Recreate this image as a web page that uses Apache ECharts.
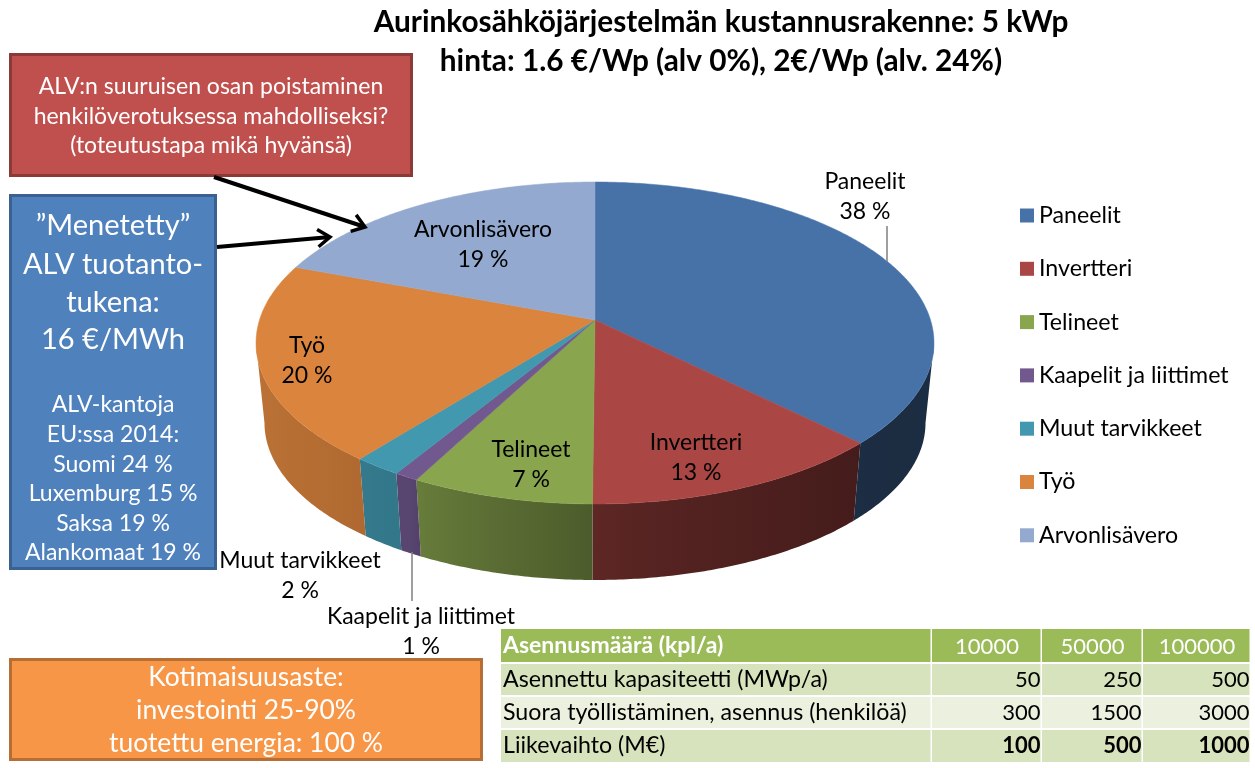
<!DOCTYPE html>
<html><head><meta charset="utf-8">
<style>html,body{margin:0;padding:0;background:#fff}#c{width:1255px;height:768px}</style>
<script src="https://cdn.jsdelivr.net/npm/echarts@6/dist/echarts.min.js"></script>
</head><body><div id="c"></div>
<script>
// ---- data ----
const titleLines = ['Aurinkosähköjärjestelmän kustannusrakenne: 5 kWp','hinta: 1.6 €/Wp (alv 0%), 2€/Wp (alv. 24%)'];
const categories = ['Paneelit','Invertteri','Telineet','Kaapelit ja liittimet','Muut tarvikkeet','Työ','Arvonlisävero'];
const shares = [37.4,12.7,7.6,1.0,2.0,20.0,19.3];
const shareLabels = ['38 %','13 %','7 %','1 %','2 %','20 %','19 %'];
const colors = ['#4672A8','#AA4643','#89A54E','#71588F','#4198AF','#DB843D','#93A9CF'];
const redBoxLines = ['ALV:n suuruisen osan poistaminen','henkilöverotuksessa mahdolliseksi?','(toteutustapa mikä hyvänsä)'];
const blueBoxBig = ['”Menetetty”','ALV tuotanto-','tukena:','16 €/MWh'];
const blueBoxSmall = ['ALV-kantoja','EU:ssa 2014:','Suomi 24 %','Luxemburg 15 %','Saksa 19 %','Alankomaat 19 %'];
const orangeBoxLines = ['Kotimaisuusaste:','investointi 25-90%','tuotettu energia: 100 %'];
const tableHeader = ['Asennusmäärä (kpl/a)','10000','50000','100000'];
const tableRowNames = ['Asennettu kapasiteetti (MWp/a)','Suora työllistäminen, asennus (henkilöä)','Liikevaihto (M€)'];
const tableValues = [[50,250,500],[300,1500,3000],[100,500,1000]];

// ---- layout ----
const FONT='Lato';
const P={cx:595,cy:320,a:335.5,b:157.7,k:1/7,s:0.975,cyB:400.6};
const labelPos=[[865,197],[696,458],[531,465],[421,632],[300,576],[307,361],[483,245]];
const leaders={0:[[887,226],[887,262]],3:[[412,552],[412,601]]};
const wallFrom=Math.acos(-P.k), wallTo=2*Math.PI-wallFrom;
const total=shares.reduce((s,v)=>s+v,0);
function proj(th,bottom){
  const u=Math.sin(th),v=-Math.cos(th),w=1-P.k*v;
  const s=bottom?P.s:1,cy=bottom?P.cyB:P.cy;
  return [P.cx+s*P.a*u/w,cy+s*P.b*v/w];
}
function arc(t0,t1,bottom){
  const n=Math.max(2,Math.ceil(Math.abs(t1-t0)/0.01)),r=[];
  for(let i=0;i<=n;i++) r.push(proj(t0+(t1-t0)*i/n,bottom));
  return r;
}
function shade(x){
  const st=[[250,.86],[360,.80],[410,.78],[420,.74],[590,.56],[600,.53],[860,.40],[940,.39]];
  for(let i=1;i<st.length;i++) if(x<=st[i][0]){
    const a=st[i-1],b=st[i];return a[1]+(b[1]-a[1])*(x-a[0])/(b[0]-a[0]);
  }
  return .39;
}
function mul(hex,f){
  const n=parseInt(hex.slice(1),16);
  return 'rgb('+[(n>>16)&255,(n>>8)&255,n&255].map(c=>Math.round(c*f)).join(',')+')';
}
function sliceItem(idx){
  return function(params,api){
    const val=api.value(0);
    let before=0;for(let i=0;i<idx;i++)before+=shares[i];
    const t0=before/total*2*Math.PI,t1=(before+val)/total*2*Math.PI;
    const children=[];
    const w0=Math.max(t0,wallFrom),w1=Math.min(t1,wallTo);
    if(w1>w0){
      const top=arc(w0,w1,false),bot=arc(w1,w0,true);
      const xs=top.concat(bot).map(p=>p[0]),x0=Math.min(...xs),x1=Math.max(...xs);
      const stops=[];for(let i=0;i<=6;i++){const x=x0+(x1-x0)*i/6;stops.push({offset:i/6,color:mul(colors[idx],shade(x))});}
      children.push({type:'polygon',z2:1,shape:{points:top.concat(bot)},
        style:{fill:new echarts.graphic.LinearGradient(0,0,1,0,stops)}});
    }
    children.push({type:'polygon',z2:2,shape:{points:[[P.cx,P.cy]].concat(arc(t0,t1,false))},
      style:{fill:colors[idx],stroke:colors[idx],lineWidth:.5}});
    if(leaders[idx]) children.push({type:'polyline',z2:3,shape:{points:leaders[idx]},style:{stroke:'#7f7f7f',lineWidth:1.5,fill:null}});
    children.push({type:'text',z2:4,x:labelPos[idx][0],y:labelPos[idx][1],
      style:{text:categories[idx]+'\n'+shareLabels[idx],align:'center',verticalAlign:'middle',
        fontFamily:FONT,fontSize:23,lineHeight:30,fill:'#000'}});
    return {type:'group',children};
  };
}
const series=categories.map((name,i)=>({type:'custom',name,coordinateSystem:'none',
  itemStyle:{color:colors[i]},data:[[shares[i]]],renderItem:sliceItem(i),silent:true,z:2+(i===0?0:1)}));

function txt(text,x,y,size,fill,align,weight){
  return {type:'text',z:10,x,y,style:{text,align:align||'center',verticalAlign:'middle',fontFamily:FONT,fontSize:size,fill:fill||'#000',fontWeight:weight||'normal'}};
}
function box(x,y,w,h,fill,stroke){
  return {type:'rect',z:8,shape:{x:x+1.5,y:y+1.5,width:w-3,height:h-3},style:{fill,stroke,lineWidth:3}};
}
function cell(x,y,w,h,fill){return {type:'rect',z:8,shape:{x,y,width:w,height:h},style:{fill}};}
function arrow(from,to){
  const an=Math.atan2(to[1]-from[1],to[0]-from[0]),L=15,sp=.62;
  const h1=[to[0]-L*Math.cos(an-sp),to[1]-L*Math.sin(an-sp)],h2=[to[0]-L*Math.cos(an+sp),to[1]-L*Math.sin(an+sp)];
  return [{type:'polyline',z:9,shape:{points:[from,to]},style:{stroke:'#000',lineWidth:4,fill:null}},
          {type:'polyline',z:9,shape:{points:[h1,to,h2]},style:{stroke:'#000',lineWidth:3.5,fill:null}}];
}
const g=[];
g.push(box(9,53,404,124,'#C0504D','#8C3A38'));
redBoxLines.forEach((t,i)=>g.push(txt(t,211,87+i*29.5,23,'#fff')));
g.push(box(9,194,208,376,'#4F81BD','#3A6190'));
const bigY=[226,265,303,340];
blueBoxBig.forEach((t,i)=>g.push(txt(t,113,bigY[i],29,'#fff')));
blueBoxSmall.forEach((t,i)=>g.push(txt(t,113,405+i*29.6,23,'#fff')));
g.push(box(9,658,474,103,'#F79646','#B66E35'));
orangeBoxLines.forEach((t,i)=>g.push(txt(t,246,677+i*33,26.4,'#fff')));
g.push(...arrow([214,177],[365,227]),...arrow([217,247],[330,237]));
// table
const colX=[501,932,1042,1143,1251];
const rowY=[[629,662],[664,695],[697,728],[730,762]];
const rowFill=['#9BBB59','#D7E3BC','#EBF1DE','#D7E3BC'];
rowY.forEach((r,i)=>{for(let c=0;c<4;c++) g.push(cell(colX[c],r[0],colX[c+1]-colX[c]-1.5,r[1]-r[0],rowFill[i]));});
tableHeader.forEach((t,c)=>{
  if(c===0) g.push(txt(t,503,646,23,'#fff','left','bold'));
  else g.push(txt(t,(colX[c]+colX[c+1])/2,647,22,'#fff'));
});
tableRowNames.forEach((t,i)=>{
  const y=(rowY[i+1][0]+rowY[i+1][1])/2;
  g.push(txt(t,503,y,23.2,'#000','left'));
  tableValues[i].forEach((v,c)=>g.push(txt(String(v),colX[c+2]-1.5,y,22,'#000','right',i===2?'bold':'normal')));
});

const chart=echarts.init(document.getElementById('c'),null,{renderer:'canvas'});
chart.setOption({
  animation:false,backgroundColor:'#fff',
  title:{text:titleLines.join('\n'),left:716,top:-2,textAlign:'center',
    textStyle:{fontFamily:FONT,fontSize:29.8,fontWeight:'bold',color:'#000',lineHeight:39}},
  legend:{orient:'vertical',left:1015,top:199,itemWidth:14,itemHeight:14,itemGap:30.3,selectedMode:false,icon:'rect',
    data:categories,textStyle:{fontFamily:FONT,fontSize:23.2,color:'#000'}},
  series,graphic:{elements:g}
});
</script></body></html>
